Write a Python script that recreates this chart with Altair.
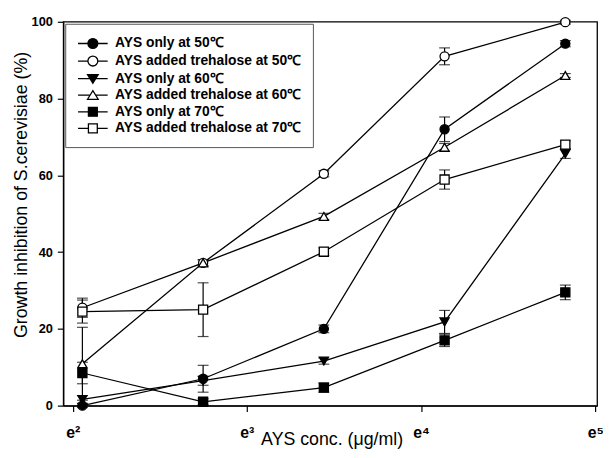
import altair as alt
import pandas as pd
import math

# ---- data ----
series_names = [
    "AYS only at 50℃",
    "AYS added trehalose at 50℃",
    "AYS only at 60℃",
    "AYS added trehalose at 60℃",
    "AYS only at 70℃",
    "AYS added trehalose at 70℃",
]
conc = [7.8125, 15.625, 31.25, 62.5, 125.0]

only50 = [0.0, 7.0, 20.0, 72.0, 94.3]
only50_err = [0.5, 3.5, 1.0, 3.2, 0.8]
tre50 = [25.5, 37.2, 60.4, 91.0, 99.9]
tre50_err = [2.5, 0.8, 0.8, 2.2, 0.5]
only60 = [1.6, 6.5, 11.6, 21.8, 65.6]
only60_err = [1.0, 1.2, 0.8, 3.0, 1.2]
tre60 = [10.9, 37.2, 49.3, 67.3, 86.0]
tre60_err = [9.5, 0.8, 0.8, 1.0, 0.5]
only70 = [8.5, 1.0, 4.7, 17.0, 29.5]
only70_err = [2.8, 0.8, 1.2, 1.6, 1.9]
tre70 = [24.5, 25.0, 40.1, 58.9, 68.0]
tre70_err = [3.0, 7.0, 1.0, 2.5, 1.0]

tick_exponents = [2, 3, 4, 5]
tick_labels = ["e²", "e³", "e⁴", "e⁵"]

values = [only50, tre50, only60, tre60, only70, tre70]
errors = [only50_err, tre50_err, only60_err, tre60_err, only70_err, tre70_err]

shapes = ["circle", "circle", "triangle-down", "triangle-up", "square", "square"]
fills = ["black", "white", "black", "white", "black", "white"]
strokes = ["black"] * 6

# legend symbols: a short line with the marker in its middle (unit = sqrt(size)/2)
leg_paths = [
    "M-2,0H-0.667M0.667,0H2M-0.667,0A0.667,0.667 0 1,0 0.667,0A0.667,0.667 0 1,0 -0.667,0Z",
    "M-2,0H-0.667M0.667,0H2M-0.667,0A0.667,0.667 0 1,0 0.667,0A0.667,0.667 0 1,0 -0.667,0Z",
    "M-2,0H-0.348M0.348,0H2M-0.72,-0.55L0.72,-0.55L0,0.62Z",
    "M-2,0H-0.348M0.348,0H2M0,-0.62L0.72,0.55L-0.72,0.55Z",
    "M-2,0H-0.6M0.6,0H2M-0.6,-0.6H0.6V0.6H-0.6Z",
    "M-2,0H-0.6M0.6,0H2M-0.6,-0.6H0.6V0.6H-0.6Z",
]

rows = []
for name, vals, errs in zip(series_names, values, errors):
    for c, v, e in zip(conc, vals, errs):
        rows.append({"series": name, "conc": c, "val": v, "lo": v - e, "hi": v + e})
df = pd.DataFrame(rows)

tick_values = [math.exp(k) for k in tick_exponents]
label_expr = "[" + ",".join(f"'{t}'" for t in tick_labels) + "][round(log(datum.value)) - 2]"

xscale = alt.Scale(type="log", base=math.e, domain=[7, 150], nice=False)
yscale = alt.Scale(domain=[0, 100], nice=False)

x_enc = alt.X(
    "conc:Q",
    scale=xscale,
    axis=alt.Axis(
        values=tick_values,
        labelExpr=label_expr,
        title="AYS conc. (μg/ml)",
        titleX=272,
        titleY=39,
        titleBaseline="alphabetic",
        titleFontSize=18,
        labelPadding=13,
        labelFontSize=16,
    ),
)
y_enc = alt.Y(
    "val:Q",
    scale=yscale,
    axis=alt.Axis(
        values=[0, 20, 40, 60, 80, 100],
        title="Growth inhibition of S.cerevisiae (%)",
        titleX=-42,
        titleY=175,
        titleBaseline="middle",
        titleFontSize=18,
        labelPadding=5,
        labelFontSize=13,
    ),
)

base = alt.Chart(df)

lines = base.mark_line(color="black", strokeWidth=1.3).encode(
    x=x_enc, y=y_enc, detail="series:N"
)
err_rules = base.mark_rule(color="black", strokeWidth=1.2).encode(
    x="conc:Q", y="lo:Q", y2="hi:Q"
)
caps_lo = base.mark_tick(orient="horizontal", size=11, thickness=1.2, color="black").encode(
    x="conc:Q", y="lo:Q"
)
caps_hi = base.mark_tick(orient="horizontal", size=11, thickness=1.2, color="black").encode(
    x="conc:Q", y="hi:Q"
)
points = base.mark_point(stroke="black", strokeWidth=1.3, opacity=1, size=85).encode(
    x="conc:Q",
    y="val:Q",
    shape=alt.Shape("series:N", scale=alt.Scale(domain=series_names, range=shapes), legend=None),
    fill=alt.Fill("series:N", scale=alt.Scale(domain=series_names, range=fills), legend=None),
)

leg_props = dict(
    title=None,
    orient="top-left",
    offset=2,
    padding=11.5,
    rowPadding=0.8,
    symbolSize=225,
    symbolOffset=8,
    labelOffset=14,
    symbolOpacity=1,
    symbolStrokeWidth=1.3,
    labelFont="Liberation Sans",
    labelFontSize=14,
    labelFontWeight="bold",
    labelColor="black",
    labelLimit=400,
    strokeColor="#555555",
    fillColor="white",
)
legend_layer = base.mark_point(strokeWidth=1.3, opacity=1).encode(
    shape=alt.Shape(
        "series:N",
        scale=alt.Scale(domain=series_names, range=leg_paths),
        legend=alt.Legend(**leg_props),
    ),
    fill=alt.Fill(
        "series:N",
        scale=alt.Scale(domain=series_names, range=fills),
        legend=alt.Legend(**leg_props),
    ),
    stroke=alt.Stroke(
        "series:N",
        scale=alt.Scale(domain=series_names, range=strokes),
        legend=alt.Legend(**leg_props),
    ),
).transform_filter("false")

chart = (
    alt.layer(lines, err_rules, caps_lo, caps_hi, points, legend_layer)
    .resolve_scale(shape="independent", fill="independent", stroke="independent")
    .properties(
        width=541,
        height=389,
        autosize=alt.AutoSizeParams(type="none"),
        padding={"left": 56, "top": 11, "right": 6, "bottom": 42},
        background="white",
    )
    .configure_view(stroke="black", strokeWidth=1.3)
    .configure_axis(
        grid=False,
        domainColor="black",
        domainWidth=1.3,
        tickColor="black",
        tickWidth=1.2,
        tickSize=6,
        labelFont="Liberation Sans",
        labelFontWeight="bold",
        labelColor="black",
        titleFont="Liberation Sans",
        titleFontWeight="normal",
        titleColor="black",
    )
)

chart.save("out.html", embed_options={"renderer": "svg", "actions": False})
